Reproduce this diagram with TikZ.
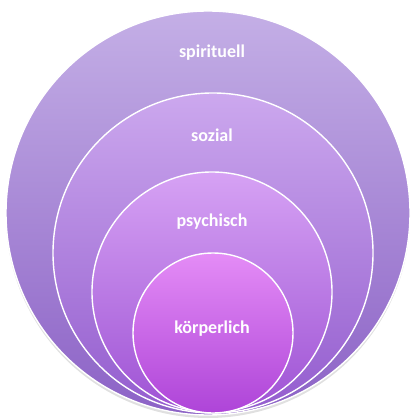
\documentclass[tikz,border=0pt]{standalone}
\usepackage{fontspec}
\setmainfont{Carlito}
\usepackage{tikz}
\definecolor{ringA}{HTML}{C4AFE6}
\definecolor{ringAd}{HTML}{8C62C6}
\definecolor{ringB}{HTML}{CCA8EE}
\definecolor{ringBd}{HTML}{935CCE}
\definecolor{ringC}{HTML}{D6A2F4}
\definecolor{ringCd}{HTML}{9E52D4}
\definecolor{ringD}{HTML}{E48CF6}
\definecolor{ringDd}{HTML}{AE44D8}
\tikzset{
  ring/.style={draw=white, line width=1.4pt},
  lbl/.style={text=white, font=\fontsize{18}{20}\selectfont\bfseries}
}

\begin{document}
\begin{tikzpicture}[x=1pt,y=-1pt]
    \useasboundingbox (0,0) rectangle (412,419);
    % soft shadow under the big circle
    \fill [black, opacity=0.12] (208,216) circle (202);
    \shade [ring, top color=ringA, bottom color=ringAd] (208,213) circle (202);
    \shade [ring, top color=ringB, bottom color=ringBd] (213,253) circle (160);
    \shade [ring, top color=ringC, bottom color=ringCd] (212,292) circle (120);
    \shade [ring, top color=ringD, bottom color=ringDd] (213,333) circle (80);
    \node [lbl] (spirit) at (212, 53) {spirituell};
    \node [lbl] (sozial) at (212,135) {sozial};
    \node [lbl] (psych) at (212,222) {psychisch};
    \node [lbl] (koerper) at (212,329) {körperlich};
\end{tikzpicture}
\end{document}
